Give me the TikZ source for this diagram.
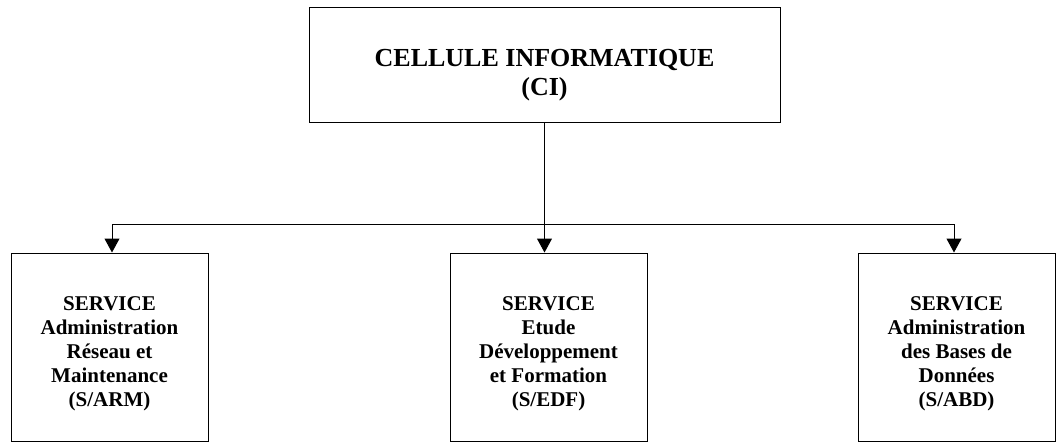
\documentclass[tikz,border=0pt]{standalone}
\usepackage{fontspec}
\setmainfont{Liberation Serif}
\usetikzlibrary{arrows.meta}

\begin{document}
\begin{tikzpicture}[x=1pt,y=-1pt,line width=1pt,
  >={Triangle[width=15pt,length=14pt]},
  unitbox/.style={draw,rectangle,inner sep=0pt,minimum width=197pt,minimum height=188pt},
  unittext/.style={align=center,font=\bfseries\fontsize{21}{24}\selectfont},
  headtext/.style={align=center,font=\bfseries\fontsize{26}{29}\selectfont}]
\useasboundingbox (0,0) rectangle (1057,442);

%Head of the cell
\node[draw,rectangle,inner sep=0pt,minimum width=471pt,minimum height=115pt] (ci) at (544.5,64.5){};
\node[headtext] (citext) at (544.5,75){CELLULE INFORMATIQUE\\(CI)};

%Services
\node[unitbox] (arm) at (109.5,347){};
\node[unitbox] (edf) at (548.5,347){};
\node[unitbox] (abd) at (956.5,347){};
\node[unittext] (armtext) at (109.5,353.5){SERVICE\\Administration\\Réseau et\\Maintenance\\(S/ARM)};
\node[unittext] (edftext) at (548.5,353.5){SERVICE\\Etude\\Développement\\et Formation\\(S/EDF)};
\node[unittext] (abdtext) at (956.5,353.5){SERVICE\\Administration\\des Bases de\\Données\\(S/ABD)};

%Links
\coordinate (jl) at (112,224);
\coordinate (jr) at (954,224);
\coordinate (jm) at (ci.south |- jl);
\draw (ci.south) -- (jm);
\draw (jl) -- (jr);
\draw[->] (jl) -- (jl |- arm.north);
\draw[->] (jm) -- (jm |- edf.north);
\draw[->] (jr) -- (jr |- abd.north);

\end{tikzpicture}
\end{document}
